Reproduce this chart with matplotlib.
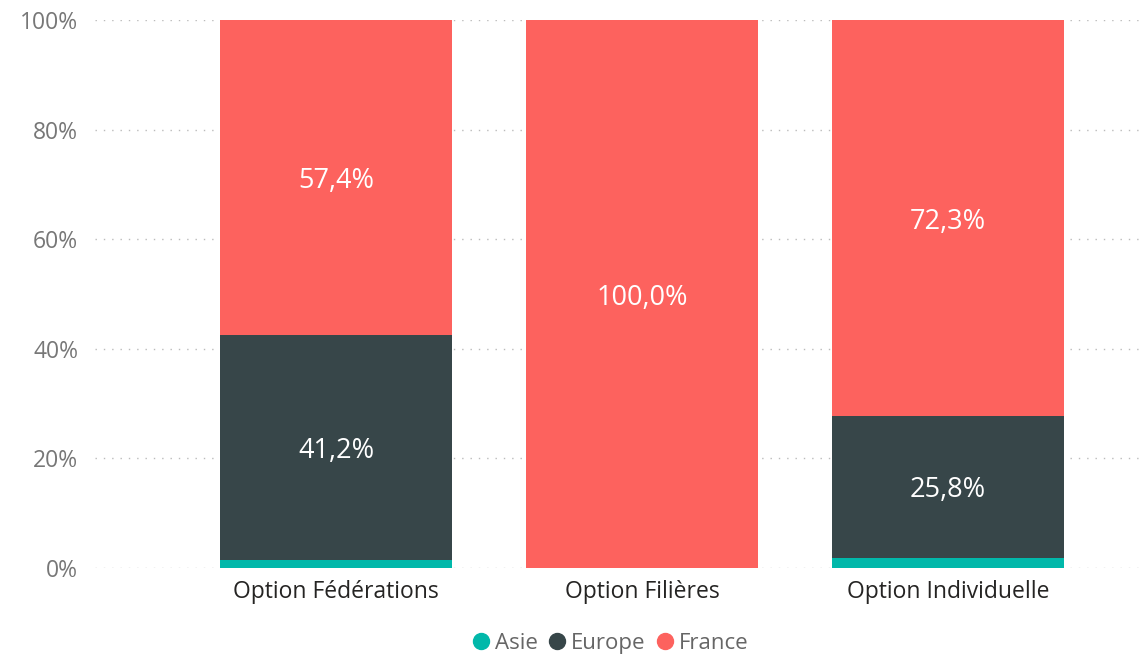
import matplotlib
matplotlib.use("Agg")
import matplotlib.pyplot as plt
from matplotlib.lines import Line2D

plt.rcParams['font.family'] = ['Open Sans', 'DejaVu Sans']

categories = ["Option Fédérations", "Option Filières", "Option Individuelle"]
series_names = ["Asie", "Europe", "France"]
asie = [1.4, 0.0, 1.9]
europe = [41.2, 0.0, 25.8]
france = [57.4, 100.0, 72.3]
colors = ["#01B8AA", "#374649", "#FD625E"]
yticks = [0, 20, 40, 60, 80, 100]

fig = plt.figure(figsize=(11.39, 6.54), dpi=100)
ax = fig.add_axes([0.0834, 0.1315, 0.9166, 0.8379])

x = list(range(len(categories)))
w = 0.758
bottom = [0.0] * len(categories)
for vals, col, name in zip([asie, europe, france], colors, series_names):
    ax.bar(x, vals, w, bottom=bottom, color=col, edgecolor='none', zorder=3)
    for i, v in enumerate(vals):
        if v >= 5:
            ax.text(x[i], bottom[i] + v / 2, f"{v:.1f}%".replace('.', ','),
                    ha='center', va='center_baseline', color='white', fontsize=19.5, zorder=4)
    bottom = [b + v for b, v in zip(bottom, vals)]

ax.set_xlim(-0.788, 2.624)
ax.set_ylim(0, 100)
ax.set_yticks(yticks)
ax.set_yticklabels([f"{t}%" for t in yticks], color='#777777', fontsize=16.5)
ax.set_xticks(x)
ax.set_xticklabels(categories, color='#252423', fontsize=16.5)
ax.tick_params(axis='both', length=0)
ax.tick_params(axis='y', pad=12)
ax.tick_params(axis='x', pad=9)
for s in ax.spines.values():
    s.set_visible(False)
ax.yaxis.grid(True, linestyle=(0, (1, 5)), color='#BBBBBB', linewidth=1, zorder=0)
ax.set_axisbelow(True)

handles = [Line2D([0], [0], marker='o', linestyle='none', markersize=11.5,
                  markerfacecolor=c, markeredgecolor=c) for c in colors]
leg = fig.legend(handles, series_names, loc='center', bbox_to_anchor=(0.53, 0.016),
                 ncol=3, frameon=False, fontsize=16, handletextpad=-0.4,
                 columnspacing=-0.1, labelcolor='#666666')

fig.savefig("out.png", dpi=100)
